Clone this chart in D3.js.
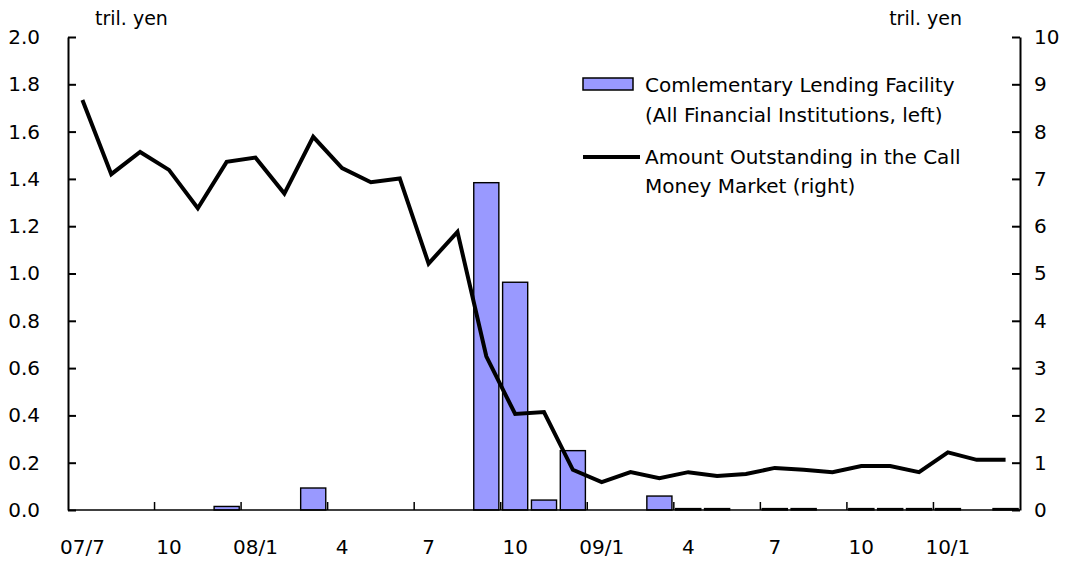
<!DOCTYPE html>
<html>
<head>
<meta charset="utf-8">
<script src="https://d3js.org/d3.v7.min.js"></script>
<style>
  body { margin: 0; background: #fff; }
  text { font-family: "DejaVu Sans", sans-serif; }
</style>
</head>
<body>
<svg id="chart"></svg>
<script>
  // months Jul 2007 .. Mar 2010
  var months = ["07/7","07/8","07/9","07/10","07/11","07/12",
                "08/1","08/2","08/3","08/4","08/5","08/6","08/7","08/8","08/9","08/10","08/11","08/12",
                "09/1","09/2","09/3","09/4","09/5","09/6","09/7","09/8","09/9","09/10","09/11","09/12",
                "10/1","10/2","10/3"];
  // complementary lending facility, left axis (tril. yen); null = no bar
  var lending = [null,null,null,null,null,0.015,
                 null,null,0.093,null,null,null,null,null,1.384,0.963,0.042,0.251,
                 null,null,0.059,0.006,0.006,null,0.006,0.006,null,0.006,0.006,0.006,
                 0.006,null,0.006];
  // amount outstanding in call money market, right axis (tril. yen)
  var callMoney = [8.67,7.10,7.57,7.19,6.38,7.36,
                   7.45,6.69,7.89,7.23,6.93,7.01,5.21,5.88,3.25,2.03,2.07,0.85,
                   0.59,0.80,0.67,0.80,0.72,0.76,0.89,0.85,0.80,0.93,0.93,0.80,
                   1.22,1.06,1.06];
  // x tick labels, every third month
  var xTickLabels = {"07/7":"07/7","07/10":"10","08/1":"08/1","08/4":"4","08/7":"7","08/10":"10",
                     "09/1":"09/1","09/4":"4","09/7":"7","09/10":"10","10/1":"10/1"};
  var leftTicks = [0,0.2,0.4,0.6,0.8,1.0,1.2,1.4,1.6,1.8,2.0];
  var rightTicks = [0,1,2,3,4,5,6,7,8,9,10];

  var W = 1071, H = 562;
  var margin = {top: 37, right: 51, bottom: 52, left: 68};
  var width = W - margin.left - margin.right,
      height = H - margin.top - margin.bottom;

  var svg = d3.select("#chart").attr("width", W).attr("height", H)
    .append("g")
      .attr("transform", "translate(" + margin.left + "," + margin.top + ")");

  var x = d3.scaleBand().domain(months).range([0, width])
    .paddingInner(0.13).paddingOuter(0.065);
  var yL = d3.scaleLinear().domain([0, 2]).range([height, 0]);
  var yR = d3.scaleLinear().domain([0, 10]).range([height, 0]);
  var off = x.step() * 0.065; // distance from category boundary to bar start

  // bars
  svg.selectAll("rect.bar")
    .data(months.map(function(m, i){ return {m: m, v: lending[i]}; }).filter(function(d){ return d.v != null; }))
    .enter().append("rect")
      .attr("class", "bar")
      .attr("x", function(d){ return x(d.m); })
      .attr("width", x.bandwidth())
      .attr("y", function(d){ return yL(d.v); })
      .attr("height", function(d){ return yL(0) - yL(d.v); })
      .attr("fill", "#9999ff")
      .attr("stroke", "#000")
      .attr("stroke-width", 1.4);

  // x axis baseline
  svg.append("line")
    .attr("x1", 0).attr("x2", width)
    .attr("y1", height).attr("y2", height)
    .attr("stroke", "#000").attr("stroke-width", 1.5);

  // x tick marks at quarter boundaries (pointing up)
  svg.selectAll("line.xtick")
    .data(months.filter(function(m, i){ return i > 0 && i % 3 == 0; }))
    .enter().append("line")
      .attr("class", "xtick")
      .attr("x1", function(m){ return x(m) - off; })
      .attr("x2", function(m){ return x(m) - off; })
      .attr("y1", height).attr("y2", height - 8)
      .attr("stroke", "#000").attr("stroke-width", 1.5);

  // x tick labels
  var xAxis = svg.append("g")
    .attr("transform", "translate(0," + height + ")")
    .call(d3.axisBottom(x)
      .tickValues(Object.keys(xTickLabels))
      .tickFormat(function(m){ return xTickLabels[m]; })
      .tickSize(0).tickPadding(30));
  xAxis.select(".domain").remove();
  xAxis.selectAll("text").style("font-size", "20px").style("font-family", "DejaVu Sans");

  // left axis
  var gL = svg.append("g")
    .call(d3.axisLeft(yL).tickValues(leftTicks).tickFormat(d3.format(".1f"))
      .tickSizeInner(-8).tickSizeOuter(0).tickPadding(28));
  gL.select(".domain").attr("stroke-width", 2);
  gL.selectAll(".tick line").attr("stroke-width", 2);
  gL.selectAll("text").style("font-size", "20px").style("font-family", "DejaVu Sans");

  // right axis
  var gR = svg.append("g")
    .attr("transform", "translate(" + width + ",0)")
    .call(d3.axisRight(yR).tickValues(rightTicks)
      .tickSizeInner(-8).tickSizeOuter(0).tickPadding(14));
  gR.select(".domain").attr("stroke-width", 2);
  gR.selectAll(".tick line").attr("stroke-width", 2);
  gR.selectAll("text").style("font-size", "20px").style("font-family", "DejaVu Sans");

  // line
  var line = d3.line()
    .x(function(d, i){ return x(months[i]) + x.bandwidth() / 2; })
    .y(function(d){ return yR(d); });
  svg.append("path")
    .datum(callMoney)
    .attr("d", line)
    .attr("fill", "none")
    .attr("stroke", "#000")
    .attr("stroke-width", 4)
    .attr("stroke-linejoin", "miter");

  // unit labels
  svg.append("text").text("tril. yen")
    .attr("x", 95 - margin.left).attr("y", 25 - margin.top)
    .style("font-size", "19px");
  svg.append("text").text("tril. yen")
    .attr("x", 962 - margin.left).attr("y", 25 - margin.top)
    .attr("text-anchor", "end")
    .style("font-size", "19px");

  // legend
  var lg = svg.append("g").attr("transform", "translate(" + (583 - margin.left) + "," + (78 - margin.top) + ")");
  lg.append("rect").attr("x", 0).attr("y", 0).attr("width", 50).attr("height", 12)
    .attr("fill", "#9999ff").attr("stroke", "#000").attr("stroke-width", 1.5);
  lg.append("text").text("Comlementary Lending Facility").attr("x", 62).attr("y", 14).style("font-size", "20px");
  lg.append("text").text("(All Financial Institutions, left)").attr("x", 62).attr("y", 44).style("font-size", "20px");
  lg.append("line").attr("x1", 0).attr("x2", 57).attr("y1", 79).attr("y2", 79)
    .attr("stroke", "#000").attr("stroke-width", 4);
  lg.append("text").text("Amount Outstanding in the Call").attr("x", 62).attr("y", 86).style("font-size", "20px");
  lg.append("text").text("Money Market (right)").attr("x", 62).attr("y", 115).style("font-size", "20px");
</script>
</body>
</html>
